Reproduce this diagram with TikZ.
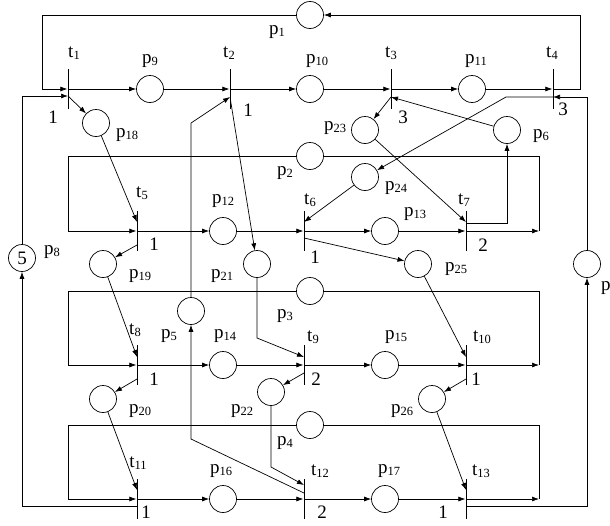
\documentclass[tikz,border=0pt]{standalone}
\usepackage{fontspec}
\setmainfont{Liberation Serif}
\usetikzlibrary{arrows.meta}
\tikzstyle{line} = [draw, line width=0.7pt]
\tikzstyle{line2} = [draw, line width=0.7pt, -{Latex[length=7pt, width=5pt]}]
\tikzstyle{place} = [circle, draw, line width=0.7pt, minimum size=27pt, inner sep=0pt, font=\fontsize{19}{21}\selectfont]
\tikzstyle{trans} = [rectangle, fill=black, minimum width=0.9pt, minimum height=40pt, inner sep=0pt]
\tikzstyle{lbl} = [inner sep=0pt, font=\fontsize{19}{21}\selectfont]
\newcommand{\lsub}[1]{\raisebox{-2pt}{\fontsize{12.5}{13}\selectfont #1}}
\begin{document}
\begin{tikzpicture}[x=1pt, y=-1pt]
			\useasboundingbox (0,0) rectangle (610,525);
			% Place transitions
			\node [trans] (t1) at (68, 89) {};
			\node [trans] (t2) at (230, 89) {};
			\node [trans] (t3) at (391, 89) {};
			\node [trans] (t4) at (553, 89) {};
			\node [trans] (t5) at (137, 231) {};
			\node [trans] (t6) at (304, 231) {};
			\node [trans] (t7) at (466, 231) {};
			\node [trans] (t8) at (137, 365) {};
			\node [trans] (t9) at (304, 365) {};
			\node [trans] (t10) at (466, 365) {};
			\node [trans] (t11) at (137, 499) {};
			\node [trans] (t12) at (304, 499) {};
			\node [trans] (t13) at (466, 499) {};
			% Place places
			\node [place] (p1) at (310, 15) {};
			\node [place] (p2) at (310, 156) {};
			\node [place] (p3) at (310, 291) {};
			\node [place] (p4) at (310, 425) {};
			\node [place] (p5) at (191, 311) {};
			\node [place] (p6) at (507, 130) {};
			\node [place] (p7) at (587, 264) {};
			\node [place] (p8) at (22, 258) {5};
			\node [place] (p9) at (150, 89) {};
			\node [place] (p10) at (310, 89) {};
			\node [place] (p11) at (472, 89) {};
			\node [place] (p12) at (223, 231) {};
			\node [place] (p13) at (385, 231) {};
			\node [place] (p14) at (223, 365) {};
			\node [place] (p15) at (385, 365) {};
			\node [place] (p16) at (223, 499) {};
			\node [place] (p17) at (385, 499) {};
			\node [place] (p18) at (96, 123) {};
			\node [place] (p19) at (103, 264) {};
			\node [place] (p20) at (103, 399) {};
			\node [place] (p21) at (257, 264) {};
			\node [place] (p22) at (271, 392) {};
			\node [place] (p23) at (365, 130) {};
			\node [place] (p24) at (365, 177) {};
			\node [place] (p25) at (418, 264) {};
			\node [place] (p26) at (432, 399) {};
			% Bends
			\coordinate (k1) at (580, 15);
			\coordinate (k2) at (42, 15);
			\coordinate (k4) at (506, 97);
			\coordinate (k5) at (191, 123);
			\coordinate (k6) at (191, 439);
			\coordinate (k21) at (257, 338);
			\coordinate (k22) at (271, 467);
			\coordinate (l2) at (68, 156);
			\coordinate (l3) at (68, 291);
			\coordinate (l4) at (68, 425);
			\coordinate (c7) at (539, 231);
			\coordinate (c10) at (539, 365);
			\coordinate (c13) at (539, 499);
			% Labels
			\node [lbl] (lt1) at (74, 53) {t\lsub{1}};
			\node [lbl] (lt2) at (229, 53) {t\lsub{2}};
			\node [lbl] (lt3) at (391, 53) {t\lsub{3}};
			\node [lbl] (lt4) at (552, 53) {t\lsub{4}};
			\node [lbl] (lt5) at (142, 193) {t\lsub{5}};
			\node [lbl] (lt6) at (310, 200) {t\lsub{6}};
			\node [lbl] (lt7) at (464, 200) {t\lsub{7}};
			\node [lbl] (lt8) at (135, 330) {t\lsub{8}};
			\node [lbl] (lt9) at (313, 337) {t\lsub{9}};
			\node [lbl] (lt10) at (482, 337) {t\lsub{10}};
			\node [lbl] (lt11) at (138, 463) {t\lsub{11}};
			\node [lbl] (lt12) at (320, 471) {t\lsub{12}};
			\node [lbl] (lt13) at (481, 471) {t\lsub{13}};
			\node [lbl] (lp1) at (277, 32) {p\lsub{1}};
			\node [lbl] (lp2) at (285, 173) {p\lsub{2}};
			\node [lbl] (lp3) at (285, 316) {p\lsub{3}};
			\node [lbl] (lp4) at (285, 443) {p\lsub{4}};
			\node [lbl] (lp5) at (169, 336) {p\lsub{5}};
			\node [lbl] (lp6) at (541, 136) {p\lsub{6}};
			\node [lbl, anchor=west] (lp7) at (601, 288) {p};
			\node [lbl] (lp8) at (52, 252) {p\lsub{8}};
			\node [lbl] (lp9) at (150, 61) {p\lsub{9}};
			\node [lbl] (lp10) at (317, 61) {p\lsub{10}};
			\node [lbl] (lp11) at (476, 61) {p\lsub{11}};
			\node [lbl] (lp12) at (223, 201) {p\lsub{12}};
			\node [lbl] (lp13) at (415, 214) {p\lsub{13}};
			\node [lbl] (lp14) at (225, 336) {p\lsub{14}};
			\node [lbl] (lp15) at (396, 337) {p\lsub{15}};
			\node [lbl] (lp16) at (221, 471) {p\lsub{16}};
			\node [lbl] (lp17) at (389, 471) {p\lsub{17}};
			\node [lbl] (lp18) at (127, 135) {p\lsub{18}};
			\node [lbl] (lp19) at (140, 276) {p\lsub{19}};
			\node [lbl] (lp20) at (140, 411) {p\lsub{20}};
			\node [lbl] (lp21) at (222, 276) {p\lsub{21}};
			\node [lbl] (lp22) at (242, 411) {p\lsub{22}};
			\node [lbl] (lp23) at (335, 128) {p\lsub{23}};
			\node [lbl] (lp24) at (396, 188) {p\lsub{24}};
			\node [lbl] (lp25) at (456, 269) {p\lsub{25}};
			\node [lbl] (lp26) at (402, 411) {p\lsub{26}};
			% Weights
			\node [lbl] (w1) at (53, 117) {1};
			\node [lbl] (w2) at (248, 110) {1};
			\node [lbl] (w3) at (403, 117) {3};
			\node [lbl] (w4) at (563, 109) {3};
			\node [lbl] (w5) at (154, 244) {1};
			\node [lbl] (w6) at (315, 257) {1};
			\node [lbl] (w7) at (483, 245) {2};
			\node [lbl] (w8) at (154, 379) {1};
			\node [lbl] (w9) at (316, 379) {2};
			\node [lbl] (w10) at (476, 379) {1};
			\node [lbl] (w11) at (146, 512) {1};
			\node [lbl] (w12) at (322, 512) {2};
			\node [lbl] (w13) at (443, 512) {1};
			% Draw rows
			\path [line2] (t1) -- (p9);
			\path [line2] (p9) -- (t2);
			\path [line2] (t2) -- (p10);
			\path [line2] (p10) -- (t3);
			\path [line2] (t3) -- (p11);
			\path [line2] (p11) -- (t4);
			\path [line2] (t5) -- (p12);
			\path [line2] (p12) -- (t6);
			\path [line2] (t6) -- (p13);
			\path [line2] (p13) -- (t7);
			\path [line2] (t7) -- (c7);
			\path [line2] (t8) -- (p14);
			\path [line2] (p14) -- (t9);
			\path [line2] (t9) -- (p15);
			\path [line2] (p15) -- (t10);
			\path [line2] (t10) -- (c10);
			\path [line2] (t11) -- (p16);
			\path [line2] (p16) -- (t12);
			\path [line2] (t12) -- (p17);
			\path [line2] (p17) -- (t13);
			\path [line2] (t13) -- (c13);
			% Draw loops
			\path [line2] (t4) -| (k1) -- (p1);
			\path [line2] (p1) -- (k2) |- (t1);
			\path [line2] ([yshift=-7pt]t11.center) -| (p8);
			\path [line2] (p8) |- ([yshift=-7pt]t1.center);
			\path [line2] ([yshift=-7pt]t13.center) -| (p7);
			\path [line2] (p7) |- ([yshift=-8pt]t4.center);
			\path [line2] (p2) -- (l2) |- (t5);
			\path [line2] (p3) -- (l3) |- (t8);
			\path [line2] (p4) -- (l4) |- (t11);
			\path [line] (c7) |- (p2);
			\path [line] (c10) |- (p3);
			\path [line] (c13) |- (p4);
			% Draw side arcs
			\path [line2] ([yshift=-7pt]t1.center) -- (p18);
			\path [line2] (p18) -- ([yshift=9pt]t5.center);
			\path [line2] ([yshift=-14pt]t5.center) -- (p19);
			\path [line2] (p19) -- ([yshift=8pt]t8.center);
			\path [line2] ([yshift=-14pt]t8.center) -- (p20);
			\path [line2] (p20) -- ([yshift=9pt]t11.center);
			\path [line2] ([yshift=-8pt]t2.center) -- (p21);
			\path [line2] (p21) -- (k21) -- ([yshift=8pt]t9.center);
			\path [line2] ([yshift=-8pt]t9.center) -- (p22);
			\path [line2] (p22) -- (k22) -- ([yshift=14pt]t12.center);
			\path [line2] (p5) -- (k5) -- ([yshift=-8pt]t2.center);
			\path [line2] ([yshift=6pt]t12.center) -- (k6) -- (p5);
			\path [line2] ([yshift=-8pt]t3.center) -- (p23);
			\path [line2] (p6) -- ([yshift=-8pt]t3.center);
			\path [line2] (p23) -- ([yshift=9pt]t7.center);
			\path [line2] ([yshift=8pt]t7.center) -| (p6);
			\path [line2] ([yshift=-8pt]t4.center) -- (k4) -- (p24);
			\path [line2] (p24) -- ([yshift=9pt]t6.center);
			\path [line2] ([yshift=-7pt]t6.center) -- (p25);
			\path [line2] (p25) -- ([yshift=8pt]t10.center);
			\path [line2] ([yshift=-14pt]t10.center) -- (p26);
			\path [line2] (p26) -- ([yshift=9pt]t13.center);
		\end{tikzpicture}
\end{document}
